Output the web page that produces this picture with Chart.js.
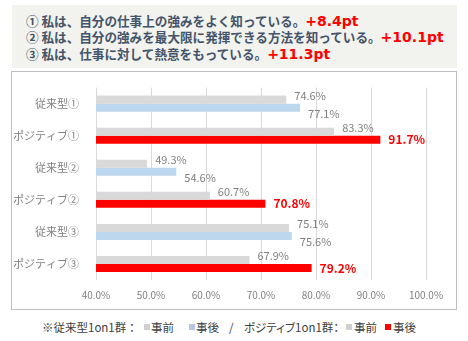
<!DOCTYPE html>
<html>
<head>
<meta charset="utf-8">
<script src="https://cdn.jsdelivr.net/npm/chart.js@4/dist/chart.umd.min.js"></script>
<style>
  html, body { margin: 0; padding: 0; background: #ffffff; width: 468px; height: 341px; overflow: hidden; }
  #header { position: absolute; left: 12px; top: 5px; width: 445px; height: 63px; background: #f2f2ee; }
  .hl { position: absolute; left: 14px; font-family: "Noto Sans CJK JP", sans-serif; font-weight: bold; font-size: 12.6px; color: #44546a; white-space: nowrap; line-height: 16px; }
  .pt { font-family: "DejaVu Sans", sans-serif; font-weight: bold; font-size: 14px; color: #ff0000; }
  #box { position: absolute; left: 11px; top: 71px; width: 444px; height: 237px; border: 1px solid #bfbfbf; background: #fff; }
  .lg { position: absolute; top: 318px; font-family: "Noto Sans CJK JP", sans-serif; font-size: 11.5px; color: #404040; white-space: nowrap; line-height: 18px; }
  .palt { font-feature-settings: "palt" 1; }
  .sq { position: absolute; top: 324px; width: 6px; height: 6px; }
</style>
</head>
<body>
<div id="header">
  <div class="hl" style="top:8px;">① 私は、自分の仕事上の強みをよく知っている。<span class="pt">+8.4pt</span></div>
  <div class="hl" style="top:24px;">② 私は、自分の強みを最大限に発揮できる方法を知っている。<span class="pt">+10.1pt</span></div>
  <div class="hl" style="top:41px;">③ 私は、仕事に対して熱意をもっている。<span class="pt">+11.3pt</span></div>
</div>
<div id="box"><canvas id="c"></canvas></div>
<span class="lg" style="left:42px">※従来型1on1群：</span>
<span class="sq" style="left:144px;background:#d0d0d0"></span>
<span class="lg" style="left:151px">事前</span>
<span class="sq" style="left:189px;background:#b4c7e7"></span>
<span class="lg" style="left:196px">事後</span>
<span class="lg" style="left:229px">/</span>
<span class="lg palt" style="left:244px">ポジティブ1on1群：</span>
<span class="sq" style="left:346px;background:#d0d0d0"></span>
<span class="lg" style="left:354px">事前</span>
<span class="sq" style="left:385px;background:#ff0000"></span>
<span class="lg" style="left:393px">事後</span>
<script>
const categories = ["従来型①", "ポジティブ①", "従来型②", "ポジティブ②", "従来型③", "ポジティブ③"];
const beforeValues = [74.6, 83.3, 49.3, 60.7, 75.1, 67.9];
const afterValues = [77.1, 91.7, 54.6, 70.8, 75.6, 79.2];
const xTicks = [40, 50, 60, 70, 80, 90, 100];

const GRAY = "#d9d9d9", BLUE = "#bdd7ee", RED = "#ff0000";
const afterColors = categories.map(c => c.startsWith("ポジティブ") ? RED : BLUE);

const labelPlugin = {
  id: "barLabels",
  afterDatasetsDraw(chart) {
    const ctx = chart.ctx;
    ctx.save();
    ctx.textBaseline = "middle";
    ctx.textAlign = "left";
    chart.data.datasets.forEach((ds, di) => {
      const meta = chart.getDatasetMeta(di);
      meta.data.forEach((el, i) => {
        const v = ds.data[i];
        const txt = v.toFixed(1) + "%";
        let dy = 0, color = "#7f7f7f", font = "11px 'Noto Sans CJK JP', sans-serif";
        if (di === 0) { dy = -4; }
        else if (afterColors[i] === RED) { color = RED; font = "bold 12px 'Noto Sans CJK JP', sans-serif"; dy = 0; }
        else { dy = 6; }
        ctx.fillStyle = color;
        ctx.font = font;
        ctx.fillText(txt, el.x + 8, el.y + dy);
      });
    });
    ctx.restore();
  }
};

new Chart(document.getElementById("c"), {
  type: "bar",
  data: {
    labels: categories,
    datasets: [
      { label: "事前", data: beforeValues, backgroundColor: GRAY, categoryPercentage: 0.5, barPercentage: 1.0 },
      { label: "事後", data: afterValues, backgroundColor: afterColors, categoryPercentage: 0.5, barPercentage: 1.0 }
    ]
  },
  options: {
    indexAxis: "y",
    responsive: true,
    maintainAspectRatio: false,
    animation: false,
    layout: { padding: { top: 14, right: 30, left: 0, bottom: 0 } },
    plugins: { legend: { display: false }, tooltip: { enabled: false } },
    scales: {
      x: {
        min: xTicks[0], max: xTicks[xTicks.length - 1],
        afterBuildTicks(scale) { scale.ticks = xTicks.map(v => ({ value: v })); },
        afterFit(scale) { scale.height = 29; },
        grid: { color: "#d9d9d9", drawTicks: false },
        border: { display: false },
        ticks: { padding: 9, color: "#808080", font: { family: "'Noto Sans CJK JP', sans-serif", size: 10 }, callback: v => v.toFixed(1) + "%" }
      },
      y: {
        afterFit(scale) { scale.width = 84; },
        grid: { display: false },
        border: { display: false },
        ticks: { padding: 9, color: "#808080", font: { family: "'Noto Sans CJK JP', sans-serif", size: 11 } }
      }
    }
  },
  plugins: [labelPlugin]
});
</script>
</body>
</html>
